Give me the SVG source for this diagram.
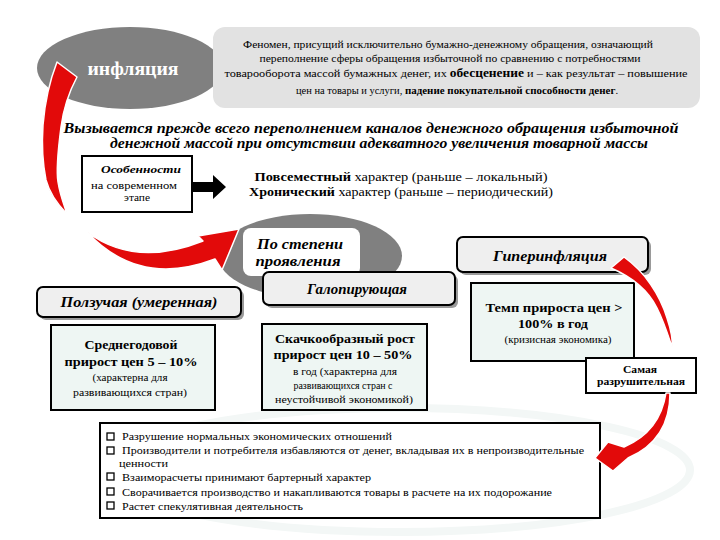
<svg xmlns="http://www.w3.org/2000/svg" width="720" height="540" viewBox="0 0 720 540">
<style>
text{fill:#000;font-family:"Liberation Serif","Times New Roman",serif}
.c{text-anchor:middle}
.b{font-weight:bold}
.bi{font-weight:bold;font-style:italic}
.sm{font-size:10.5px}
.red{fill:#e20a0a;stroke:#fff;stroke-width:1.5;stroke-linejoin:round}
.rbox{fill:#efefef;stroke:#000;stroke-width:2}
.cbox{fill:#eef6f3;stroke:#000;stroke-width:2}
.sh{fill:#9a9a9a}
</style>
<rect width="720" height="540" fill="#fff"/>
<ellipse cx="400" cy="470" rx="290" ry="62" fill="none" stroke="#f3f7f6" stroke-width="8"/>

<g id="inflation">
<ellipse cx="130" cy="68" rx="93" ry="41" fill="#808080"/>
<text x="133" y="75" class="c b" style="font-size:18px;fill:#fff" textLength="91" lengthAdjust="spacingAndGlyphs">инфляция</text>
</g>

<g id="definition">
<rect x="213" y="27" width="487" height="81" rx="12" fill="#e2e2e2"/>
<text x="448" y="48" class="c sm" textLength="410" lengthAdjust="spacingAndGlyphs">Феномен, присущий исключительно бумажно-денежному обращения, означающий</text>
<text x="450" y="62" class="c sm" textLength="381" lengthAdjust="spacingAndGlyphs">переполнение сферы обращения избыточной по сравнению с потребностями</text>
<text x="456" y="77" class="c sm" textLength="463" lengthAdjust="spacingAndGlyphs">товарооборота массой бумажных денег, их <tspan class="b" style="font-size:11.5px">обесценение</tspan> и – как результат – повышение</text>
<text x="457" y="94" class="c sm" textLength="322" lengthAdjust="spacingAndGlyphs">цен на товары и услуги, <tspan class="b" style="font-size:11px">падение покупательной способности денег</tspan>.</text>
</g>

<g id="cause">
<text x="371" y="133" class="c bi" style="font-size:15px" textLength="615" lengthAdjust="spacingAndGlyphs">Вызывается прежде всего переполнением каналов денежного обращения избыточной</text>
<text x="379" y="148" class="c bi" style="font-size:15px" textLength="538" lengthAdjust="spacingAndGlyphs">денежной массой при отсутствии адекватного увеличения товарной массы</text>
</g>

<g id="features">
<rect x="82" y="156" width="110" height="56" fill="#fff" stroke="#000" stroke-width="2"/>
<text x="141" y="173" class="c bi" style="font-size:10px" textLength="80" lengthAdjust="spacingAndGlyphs">Особенности</text>
<text x="134" y="189" class="c" style="font-size:10px" textLength="86" lengthAdjust="spacingAndGlyphs">на современном</text>
<text x="137" y="201" class="c" style="font-size:10px" textLength="26" lengthAdjust="spacingAndGlyphs">этапе</text>
</g>

<g id="features-text">
<text x="401" y="181" class="c" style="font-size:12px" textLength="293" lengthAdjust="spacingAndGlyphs"><tspan class="b">Повсеместный</tspan>  характер  (раньше – локальный)</text>
<text x="401" y="196" class="c" style="font-size:12px" textLength="304" lengthAdjust="spacingAndGlyphs"><tspan class="b">Хронический</tspan> характер (раньше – периодический)</text>
</g>

<g id="degree">
<ellipse cx="310" cy="256" rx="92" ry="42" fill="#808080"/>
<rect x="243" y="228" width="117" height="48" rx="8" fill="#fff"/>
<text x="300" y="249" class="c bi" style="font-size:14px" textLength="86" lengthAdjust="spacingAndGlyphs">По степени</text>
<text x="298" y="266" class="c bi" style="font-size:14px" textLength="85" lengthAdjust="spacingAndGlyphs">проявления</text>
</g>

<g id="creeping">
<rect x="40" y="290" width="204" height="30" rx="6" class="sh"/>
<rect x="37" y="287" width="204" height="30" rx="6" class="rbox"/>
<text x="139" y="307" class="c bi" style="font-size:14px" textLength="157" lengthAdjust="spacingAndGlyphs">Ползучая (умеренная)</text>
</g>

<g id="galloping">
<rect x="266" y="275" width="192" height="33" rx="6" class="sh"/>
<rect x="263" y="272" width="192" height="33" rx="6" class="rbox"/>
<text x="357" y="294" class="c bi" style="font-size:14px" textLength="100" lengthAdjust="spacingAndGlyphs">Галопирующая</text>
</g>

<g id="hyper">
<rect x="460" y="240" width="191" height="35" rx="6" class="sh"/>
<rect x="457" y="237" width="191" height="35" rx="6" class="rbox"/>
<text x="550" y="261" class="c bi" style="font-size:14px" textLength="114" lengthAdjust="spacingAndGlyphs">Гиперинфляция</text>
</g>

<g id="creeping-info">
<rect x="51" y="325" width="164" height="85" class="cbox"/>
<text x="131" y="349" class="c b" style="font-size:12.5px" textLength="93" lengthAdjust="spacingAndGlyphs">Среднегодовой</text>
<text x="131" y="366" class="c b" style="font-size:12.5px" textLength="133" lengthAdjust="spacingAndGlyphs">прирост цен  5 – 10%</text>
<text x="130" y="381" class="c" style="font-size:10.5px" textLength="75" lengthAdjust="spacingAndGlyphs">(характерна для</text>
<text x="130" y="396" class="c" style="font-size:10.5px" textLength="114" lengthAdjust="spacingAndGlyphs">развивающихся стран)</text>
</g>

<g id="galloping-info">
<rect x="262" y="324" width="165" height="86" class="cbox"/>
<text x="345" y="343" class="c b" style="font-size:12.5px" textLength="140" lengthAdjust="spacingAndGlyphs">Скачкообразный рост</text>
<text x="343" y="359" class="c b" style="font-size:12.5px" textLength="139" lengthAdjust="spacingAndGlyphs">прирост цен  10 – 50%</text>
<text x="345" y="375" class="c" style="font-size:10.5px" textLength="104" lengthAdjust="spacingAndGlyphs">в год  (характерна для</text>
<text x="343" y="389" class="c" style="font-size:10.5px" textLength="99" lengthAdjust="spacingAndGlyphs">развивающихся стран с</text>
<text x="344" y="403" class="c" style="font-size:10.5px" textLength="138" lengthAdjust="spacingAndGlyphs">неустойчивой экономикой)</text>
</g>

<g id="hyper-info">
<rect x="471" y="283" width="163" height="78" class="cbox"/>
<text x="554" y="312" class="c b" style="font-size:12.5px" textLength="137" lengthAdjust="spacingAndGlyphs">Темп прироста  цен &gt;</text>
<text x="553" y="328" class="c b" style="font-size:12.5px" textLength="70" lengthAdjust="spacingAndGlyphs">100% в год</text>
<text x="558" y="343" class="c" style="font-size:10px" textLength="107" lengthAdjust="spacingAndGlyphs">(кризисная экономика)</text>
</g>

<g id="most-destructive">
<rect x="586" y="358" width="110" height="35" fill="#fff" stroke="#000" stroke-width="2"/>
<text x="640" y="373" class="c b" style="font-size:10px" textLength="34" lengthAdjust="spacingAndGlyphs">Самая</text>
<text x="641" y="385" class="c b" style="font-size:10px" textLength="88" lengthAdjust="spacingAndGlyphs">разрушительная</text>
</g>

<g id="consequences">
<rect x="100" y="423" width="500" height="95" fill="#fff" stroke="#000" stroke-width="2"/>
<g fill="#fff" stroke="#000" stroke-width="1.3">
<rect x="107" y="433" width="7" height="7"/>
<rect x="107" y="447" width="7" height="7"/>
<rect x="107" y="473" width="7" height="7"/>
<rect x="107" y="488" width="7" height="7"/>
<rect x="107" y="502" width="7" height="7"/>
</g>
<g class="sm">
<text x="122" y="440" textLength="270" lengthAdjust="spacingAndGlyphs">Разрушение нормальных экономических отношений</text>
<text x="122" y="454" textLength="462" lengthAdjust="spacingAndGlyphs">Производители и потребителя избавляются от денег, вкладывая их в непроизводительные</text>
<text x="119" y="467" textLength="49" lengthAdjust="spacingAndGlyphs">ценности</text>
<text x="122" y="481" textLength="249" lengthAdjust="spacingAndGlyphs">Взаиморасчеты принимают бартерный характер</text>
<text x="122" y="496" textLength="430" lengthAdjust="spacingAndGlyphs">Сворачивается производство и накапливаются товары в расчете на их подорожание</text>
<text x="122" y="510" textLength="181" lengthAdjust="spacingAndGlyphs">Растет спекулятивная деятельность</text>
</g>
</g>

<g id="connectors">
<path class="red" d="M57,62 L77,77 C70,90 64,105 61,127 C58,150 56,170 58,182 C60,195 64,205 67,214 C58,205 50,195 46,180 C42,160 42,140 43,125 C45,100 50,80 57,62 Z"/>
<path class="red" d="M87,232 Q135,268 203,241 L198,236 L239,229 L222,270 L215,259 Q139,288 87,232 Z"/>
<path class="red" d="M611,268 L624,257 C645,272 660,295 667,318 C671,330 673,340 672,347 C668,335 664,322 657,308 C648,290 632,277 611,268 Z"/>
<path class="red" d="M666,393 Q660,432 624,447 L608,442 L595,458 L613,471 L628,458 Q670,440 670,393 Z"/>
<path fill="#000" d="M192,182 L213,182 L213,175 L226,187 L213,199 L213,192 L192,192 Z"/>
</g>
</svg>
